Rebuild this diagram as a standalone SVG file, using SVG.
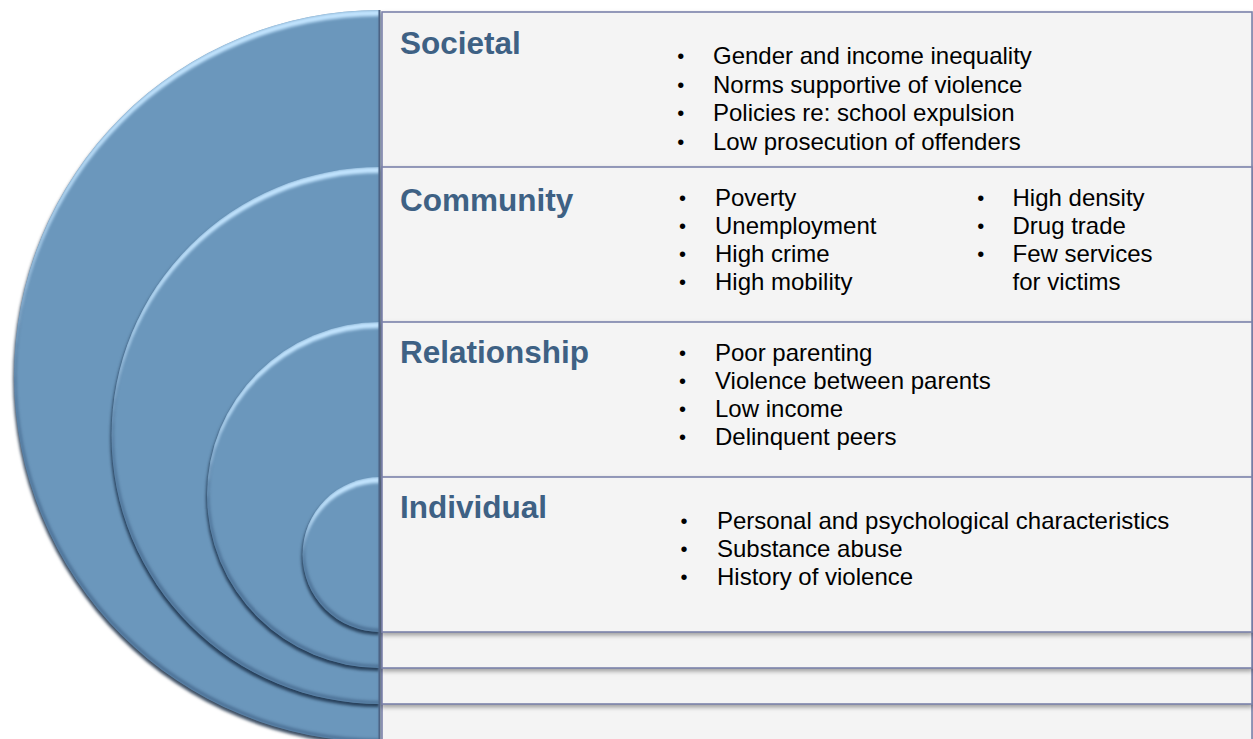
<svg xmlns="http://www.w3.org/2000/svg" width="1253" height="739" viewBox="0 0 1253 739">
  <defs>
    <!-- soft bevel for the nested half discs: top highlight, lower inner shade, cast shadow -->
    <filter id="bevel" x="-8%" y="-6%" width="116%" height="114%" color-interpolation-filters="sRGB">
      <feGaussianBlur in="SourceAlpha" stdDeviation="1.6" result="blur"/>
      <feOffset in="blur" dx="-1.5" dy="2.5" result="blurOff"/>
      <feFlood flood-color="#1a2f48" flood-opacity="0.85"/>
      <feComposite in2="blurOff" operator="in" result="shadow"/>
      <feOffset in="SourceAlpha" dy="6" result="down"/>
      <feComposite in="SourceAlpha" in2="down" operator="out" result="topBandRaw"/>
      <feGaussianBlur in="topBandRaw" stdDeviation="1.4" result="topBandBlur"/>
      <feComposite in="topBandBlur" in2="SourceAlpha" operator="in" result="topBand"/>
      <feFlood flood-color="#c2e4fe" flood-opacity="1"/>
      <feComposite in2="topBand" operator="in" result="highlight"/>
      <feOffset in="SourceAlpha" dx="2" dy="-3" result="up"/>
      <feComposite in="SourceAlpha" in2="up" operator="out" result="bottomBandRaw"/>
      <feGaussianBlur in="bottomBandRaw" stdDeviation="1.5" result="bottomBandBlur"/>
      <feComposite in="bottomBandBlur" in2="SourceAlpha" operator="in" result="bottomBand"/>
      <feFlood flood-color="#35557a" flood-opacity="0.6"/>
      <feComposite in2="bottomBand" operator="in" result="shade"/>
      <feMerge>
        <feMergeNode in="shadow"/>
        <feMergeNode in="SourceGraphic"/>
        <feMergeNode in="shade"/>
        <feMergeNode in="highlight"/>
      </feMerge>
    </filter>
    <filter id="boxShadow" x="-2%" y="-5%" width="104%" height="112%" color-interpolation-filters="sRGB">
      <feDropShadow dx="0" dy="2.5" stdDeviation="2" flood-color="#000" flood-opacity="0.35"/>
    </filter>
  </defs>
  <style>
    .ring{fill:#6b97bc;filter:url(#bevel)}
    .box{fill:#f4f4f4;stroke:#7b82ab;stroke-width:1.6;filter:url(#boxShadow)}
    .title{font-family:"Liberation Sans",Arial,sans-serif;font-weight:bold;font-size:31.5px;fill:#3e6184}
    .item{font-family:"Liberation Sans",Arial,sans-serif;font-size:24px;fill:#000}
    .dot{font-family:"Liberation Sans",Arial,sans-serif;font-size:20px;fill:#000}
  </style>
  <rect width="1253" height="739" fill="#ffffff"/>

  <g id="societal">
    <path class="ring" d="M380,10 A366,366 0 0 0 380,742 Z"/>
    <rect class="box" x="382" y="12" width="870" height="745"/>
    <text class="title" x="400" y="54">Societal</text>
    <text class="dot">
      <tspan x="677.3" y="63">•</tspan>
      <tspan x="677.3" y="91.7">•</tspan>
      <tspan x="677.3" y="120">•</tspan>
      <tspan x="677.3" y="148.5">•</tspan>
    </text>
    <text class="item">
      <tspan x="713" y="64">Gender and income inequality</tspan>
      <tspan x="713" y="92.7">Norms supportive of violence</tspan>
      <tspan x="713" y="121">Policies re: school expulsion</tspan>
      <tspan x="713" y="149.5">Low prosecution of offenders</tspan>
    </text>
  </g>

  <g id="community">
    <path class="ring" d="M380,167 A268.5,268.5 0 0 0 380,704 Z"/>
    <rect class="box" x="382" y="167" width="870" height="537"/>
    <text class="title" x="400" y="210.7">Community</text>
    <text class="dot">
      <tspan x="679" y="204.7">•</tspan>
      <tspan x="679" y="232.5">•</tspan>
      <tspan x="679" y="260.7">•</tspan>
      <tspan x="679" y="289">•</tspan>
      <tspan x="977.2" y="204.7">•</tspan>
      <tspan x="977.2" y="232.5">•</tspan>
      <tspan x="977.2" y="260.7">•</tspan>
    </text>
    <text class="item">
      <tspan x="715" y="205.7">Poverty</tspan>
      <tspan x="715" y="233.5">Unemployment</tspan>
      <tspan x="715" y="261.7">High crime</tspan>
      <tspan x="715" y="290">High mobility</tspan>
    </text>
    <text class="item">
      <tspan x="1012.5" y="205.7">High density</tspan>
      <tspan x="1012.5" y="233.5">Drug trade</tspan>
      <tspan x="1012.5" y="261.7">Few services</tspan>
      <tspan x="1012.5" y="290">for victims</tspan>
    </text>
  </g>

  <g id="relationship">
    <path class="ring" d="M380,322 A173,173 0 0 0 380,668 Z"/>
    <rect class="box" x="382" y="322" width="870" height="346"/>
    <text class="title" x="400" y="363.3">Relationship</text>
    <text class="dot">
      <tspan x="679" y="359.7">•</tspan>
      <tspan x="679" y="387.5">•</tspan>
      <tspan x="679" y="415.7">•</tspan>
      <tspan x="679" y="444">•</tspan>
    </text>
    <text class="item">
      <tspan x="715" y="360.7">Poor parenting</tspan>
      <tspan x="715" y="388.5">Violence between parents</tspan>
      <tspan x="715" y="416.7">Low income</tspan>
      <tspan x="715" y="445">Delinquent peers</tspan>
    </text>
  </g>

  <g id="individual">
    <path class="ring" d="M380,477 A77.5,77.5 0 0 0 380,632 Z"/>
    <rect class="box" x="382" y="477" width="870" height="155"/>
    <text class="title" x="400" y="518.3">Individual</text>
    <text class="dot">
      <tspan x="680.5" y="528">•</tspan>
      <tspan x="680.5" y="556">•</tspan>
      <tspan x="680.5" y="584">•</tspan>
    </text>
    <text class="item">
      <tspan x="717" y="529">Personal and psychological characteristics</tspan>
      <tspan x="717" y="557">Substance abuse</tspan>
      <tspan x="717" y="585">History of violence</tspan>
    </text>
  </g>

  <!-- dark seam where the half discs meet the panels -->
  <line x1="379.5" y1="10" x2="379.5" y2="739" stroke="#4c6384" stroke-width="2"/>
</svg>
